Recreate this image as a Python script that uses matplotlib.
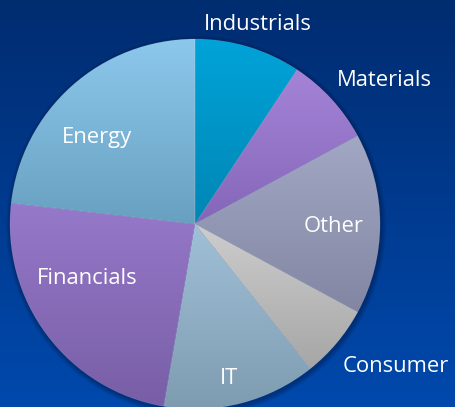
import numpy as np
import matplotlib
matplotlib.use("Agg")
import matplotlib.pyplot as plt
from matplotlib.colors import LinearSegmentedColormap

categories = ["Industrials", "Materials", "Other", "Consumer", "IT", "Financials", "Energy"]
values = [9.3, 7.8, 15.8, 6.4, 13.4, 24.1, 23.2]
top_colors = ["#00a3d9", "#a584d8", "#a2a8c4", "#cdcdcd", "#a0c0d8", "#9679ca", "#8cc8ec"]
bottom_colors = ["#0086b4", "#8466b8", "#8286a2", "#a6a6a6", "#7e9cb0", "#785ea6", "#68a0c0"]
label_pos = [(258, 24), (384, 80), (334, 227), (396, 367), (229, 379), (87, 279), (97, 137)]

W, H = 455, 407
fig = plt.figure(figsize=(W / 100, H / 100), dpi=100)
ax = fig.add_axes([0, 0, 1, 1])

cx, cy, R = 195, H - 224, 185

wedges, _ = ax.pie(values, center=(cx, cy), radius=R, startangle=90,
                   counterclock=False, frame=True,
                   wedgeprops=dict(linewidth=0.5, edgecolor=(1, 1, 1, 0.15)))
ax.set_xlim(0, W)
ax.set_ylim(0, H)
ax.set_aspect("auto")
ax.axis("off")

# background gradient
bg = LinearSegmentedColormap.from_list("bg", ["#0049ad", "#002c70"])
grad = np.linspace(0, 1, 256).reshape(-1, 1)
ax.imshow(grad, cmap=bg, extent=[0, W, 0, H], origin="lower", aspect="auto", zorder=0)

# soft shadow
for r in np.linspace(R + 5, R + 0.5, 6):
    ax.add_patch(plt.Circle((cx + 1, cy - 2), r, color="#001030", alpha=0.07, lw=0, zorder=1))

for w, tc, bc in zip(wedges, top_colors, bottom_colors):
    w.set_zorder(3)
    w.set_facecolor("none")
    ext = w.get_path().get_extents(w.get_patch_transform())
    cm = LinearSegmentedColormap.from_list("g", [bc, tc])
    im = ax.imshow(grad, cmap=cm, extent=[ext.x0, ext.x1, ext.y0, ext.y1],
                   origin="lower", aspect="auto", zorder=2, interpolation="bilinear")
    im.set_clip_path(w)

for cat, (x, y) in zip(categories, label_pos):
    ax.text(x, H - y, cat, color="white", fontsize=15.8, family="Open Sans",
            ha="center", va="center", zorder=5)

ax.set_xlim(0, W)
ax.set_ylim(0, H)
fig.savefig("out.png", dpi=100)
